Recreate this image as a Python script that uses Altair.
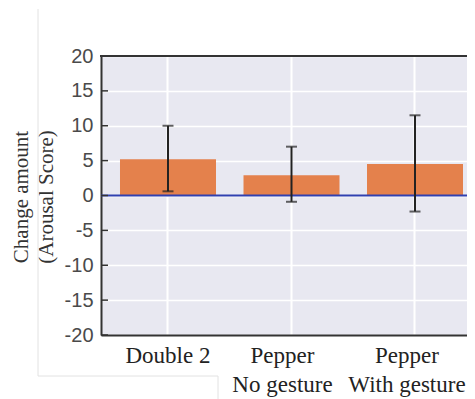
import altair as alt
import pandas as pd

groups = ["Double 2", "Pepper|No gesture", "Pepper|With gesture"]
means = [5.2, 2.9, 4.5]
err_lo = [0.6, -0.9, -2.3]
err_hi = [10.0, 7.0, 11.5]
y_ticks = [-20, -15, -10, -5, 0, 5, 10, 15, 20]

W, H = 366, 279

df = pd.DataFrame({"group": groups, "mean": means, "lo": err_lo, "hi": err_hi})
tick_df = pd.DataFrame({"v": y_ticks})

xscale = alt.Scale(domain=groups, paddingInner=0.2227, paddingOuter=0.0931, align=0.826)
yscale = alt.Scale(domain=[-20, 20], nice=False, zero=False)

x_axis = alt.Axis(
    title=None, labelAngle=0, labelExpr="split(datum.label, '|')",
    labelFont="Liberation Serif", labelFontSize=23, labelColor="#222",
    labelPadding=9, labelLineHeight=29, labelBaseline="top",
    labelOffset={
        "condition": [
            {"test": "datum.value == 'Pepper|No gesture'", "value": -9},
            {"test": "datum.value == 'Pepper|With gesture'", "value": -8},
        ],
        "value": 0,
    },
    ticks=False, domain=True, domainColor="#333", domainWidth=2,
    grid=True, gridColor="white", gridWidth=2, bandPosition=0.5,
)
y_axis = alt.Axis(
    values=y_ticks, tickCount=9, title=["Change amount", "(Arousal Score)"],
    titleFont="Liberation Serif", titleFontSize=21, titleFontWeight="normal",
    titleColor="#333", titleAngle=-90, titleX=-74, titleY=H / 2 + 1,
    titleAlign="center", titleBaseline="alphabetic", titleLineHeight=25,
    labelFont="Liberation Sans", labelFontSize=20, labelColor="#4a4a4a",
    labelOverlap=False,
    labelExpr="datum.value < 0 ? '-' + abs(datum.value) : '' + datum.value",
    labelPadding=8, ticks=False, domain=True, domainColor="#333", domainWidth=2,
    grid=True, gridColor="white", gridWidth=1.5,
)


def X():
    return alt.X("group:N", scale=xscale, axis=x_axis, sort=groups)


def Y(field):
    return alt.Y(field, scale=yscale, axis=y_axis)


bars = alt.Chart(df).mark_bar(color="#E4814C").encode(
    x=X(), y=Y("mean:Q"), y2=alt.datum(0),
)

zero_line = alt.Chart(alt.Data(values=[{}])).mark_rule(color="#3040B0", strokeWidth=2).encode(
    y=alt.YDatum(0, scale=yscale, axis=y_axis), x=alt.value(0), x2=alt.value(W)
)

err_rule = alt.Chart(df).mark_rule(color="#222", strokeWidth=2).encode(
    x=X(), y=Y("lo:Q"), y2="hi:Q",
)
cap_lo = alt.Chart(df).mark_tick(color="#222", thickness=2, size=11, orient="horizontal").encode(
    x=X(), y=Y("lo:Q")
)
cap_hi = alt.Chart(df).mark_tick(color="#222", thickness=2, size=11, orient="horizontal").encode(
    x=X(), y=Y("hi:Q")
)

inner_ticks = alt.Chart(tick_df).mark_rule(color="#333", strokeWidth=1.5).encode(
    y=Y("v:Q"), x=alt.value(0), x2=alt.value(7)
)

top_border = alt.Chart(alt.Data(values=[{}])).mark_rule(color="#333", strokeWidth=2).encode(
    y=alt.value(0), x=alt.value(-1), x2=alt.value(W)
)

deco_color = "#e2e2e2"
deco1 = alt.Chart(alt.Data(values=[{}])).mark_rule(color=deco_color, strokeWidth=1).encode(
    x=alt.value(-63), y=alt.value(-47), y2=alt.value(320)
)
deco2 = alt.Chart(alt.Data(values=[{}])).mark_rule(color=deco_color, strokeWidth=1).encode(
    x=alt.value(-63), x2=alt.value(117), y=alt.value(320)
)
deco3 = alt.Chart(alt.Data(values=[{}])).mark_rule(color=deco_color, strokeWidth=1).encode(
    x=alt.value(117), y=alt.value(320), y2=alt.value(350)
)

chart = alt.layer(
    bars, zero_line, err_rule, cap_lo, cap_hi, inner_ticks, top_border, deco1, deco2, deco3
).properties(
    width=W, height=H,
    autosize=alt.AutoSizeParams(type="none"),
    padding={"left": 93, "top": 48, "right": 0, "bottom": 64},
    background="white",
).configure_view(
    fill="#E8E8F1", stroke=None
)

chart.save("out.html", embed_options={"renderer": "svg", "actions": False})
